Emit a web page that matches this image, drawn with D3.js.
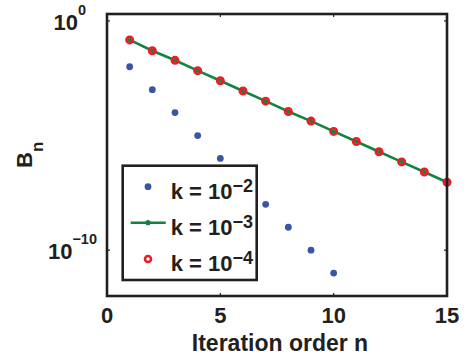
<!DOCTYPE html>
<html>
<head>
<meta charset="utf-8">
<script src="https://cdn.jsdelivr.net/npm/d3@7"></script>
<style>
  body { margin: 0; background: #fff; }
  text { font-family: "Liberation Sans", Arial, sans-serif; font-weight: bold; fill: #231f20; }
</style>
</head>
<body>
<div id="chart"></div>
<script>
// iteration orders
var orders = [1, 2, 3, 4, 5, 6, 7, 8, 9, 10, 11, 12, 13, 14, 15];
// B_n for k = 1e-2
var bK2 = [1e-2, 1e-3, 1e-4, 1e-5, 1e-6, 1e-7, 1e-8, 1e-9, 1e-10, 1e-11];
// B_n for k = 1e-3
var bK3 = [0.148, 0.0501, 0.0191, 6.76e-3, 2.45e-3, 8.71e-4, 3.16e-4, 1.12e-4,
           4.27e-5, 1.51e-5, 5.50e-6, 1.95e-6, 7.08e-7, 2.57e-7, 9.12e-8];
// B_n for k = 1e-4 (on top of k = 1e-3)
var bK4 = [0.148, 0.0501, 0.0191, 6.76e-3, 2.45e-3, 8.71e-4, 3.16e-4, 1.12e-4,
           4.27e-5, 1.51e-5, 5.50e-6, 1.95e-6, 7.08e-7, 2.57e-7, 9.12e-8];
var xTicks = [0, 5, 10, 15];
var yTicks = [1e0, 1e-10];
var legendExp = ['\u22122', '\u22123', '\u22124'];

var W = 466, H = 360;
var svg = d3.select('#chart').append('svg')
	.attr('width', W)
	.attr('height', H);

var x = d3.scaleLinear().domain([0, 15]).range([107, 447]);
var y = d3.scaleLog().domain([1e-12, 2]).range([296, 14]);

var blue = '#3a55a4', green = '#138440', red = '#ed1c24', ink = '#231f20';

// data
var line = d3.line()
	.x(function(d, i) { return x(orders[i]); })
	.y(function(d) { return y(d); });

svg.append('g').selectAll('circle')
	.data(bK2)
	.enter().append('circle')
	.attr('cx', function(d, i) { return x(orders[i]); })
	.attr('cy', function(d) { return y(d); })
	.attr('r', 3.4)
	.attr('fill', blue);

svg.append('path')
	.datum(bK3)
	.attr('d', line)
	.attr('fill', 'none')
	.attr('stroke', green)
	.attr('stroke-width', 2.6);

svg.append('g').selectAll('circle')
	.data(bK3)
	.enter().append('circle')
	.attr('cx', function(d, i) { return x(orders[i]); })
	.attr('cy', function(d) { return y(d); })
	.attr('r', 2.2)
	.attr('fill', green);

svg.append('g').selectAll('circle')
	.data(bK4)
	.enter().append('circle')
	.attr('cx', function(d, i) { return x(orders[i]); })
	.attr('cy', function(d) { return y(d); })
	.attr('r', 3.2)
	.attr('fill', 'none')
	.attr('stroke', red)
	.attr('stroke-width', 2.6);

// axes box with inward ticks
var x0 = x.range()[0], x1 = x.range()[1], y0 = y.range()[0], y1 = y.range()[1];
var tl = 3;
var ax = svg.append('g').attr('stroke', ink).attr('stroke-width', 1.2);
xTicks.forEach(function(t) {
	ax.append('line').attr('x1', x(t)).attr('x2', x(t)).attr('y1', y0).attr('y2', y0 - tl);
	ax.append('line').attr('x1', x(t)).attr('x2', x(t)).attr('y1', y1).attr('y2', y1 + tl);
});
yTicks.forEach(function(t) {
	ax.append('line').attr('x1', x0).attr('x2', x0 + tl).attr('y1', y(t)).attr('y2', y(t));
	ax.append('line').attr('x1', x1).attr('x2', x1 - tl).attr('y1', y(t)).attr('y2', y(t));
});
svg.append('rect')
	.attr('x', x0).attr('y', y1)
	.attr('width', x1 - x0).attr('height', y0 - y1)
	.attr('fill', 'none')
	.attr('stroke', ink)
	.attr('stroke-width', 2.6);

// tick labels
svg.append('g').selectAll('text')
	.data(xTicks)
	.enter().append('text')
	.attr('x', function(d) { return x(d); })
	.attr('y', 322.7)
	.attr('text-anchor', 'middle')
	.attr('font-size', 22)
	.text(function(d) { return d; });

yTicks.forEach(function(t) {
	var e = Math.round(Math.log10(t));
	var sup = e < 0 ? '\u2212' + (-e) : '' + e;
	// base "10" ends left of the superscript, like the original
	var tx = svg.append('text')
		.attr('x', 86 + 5.5 * (sup.length - 1))
		.attr('y', y(t) + 9)
		.attr('text-anchor', 'end')
		.attr('font-size', 22);
	tx.append('tspan').text('10');
	tx.append('tspan')
		.attr('font-size', 14.5)
		.attr('dy', -15)
		.text(sup);
});

// axis titles
svg.append('text')
	.attr('x', 280)
	.attr('y', 351)
	.attr('text-anchor', 'middle')
	.attr('font-size', 23)
	.text('Iteration order n');

var yl = svg.append('text')
	.attr('transform', 'translate(32,168) rotate(-90)')
	.attr('font-size', 22);
yl.append('tspan').text('B');
yl.append('tspan').attr('font-size', 17).attr('dy', 10.5).text('n');

// legend
var lg = svg.append('g');
lg.append('rect')
	.attr('x', 122.7).attr('y', 165.7)
	.attr('width', 134).attr('height', 114.3)
	.attr('fill', '#fff')
	.attr('stroke', ink)
	.attr('stroke-width', 2.6);

var rows = [186.7, 222.7, 259];
var mx = 148;
lg.append('circle').attr('cx', mx).attr('cy', rows[0]).attr('r', 3.4).attr('fill', blue);
lg.append('line')
	.attr('x1', 130.7).attr('x2', 165.7)
	.attr('y1', rows[1]).attr('y2', rows[1])
	.attr('stroke', green).attr('stroke-width', 2.6);
lg.append('circle').attr('cx', mx).attr('cy', rows[1]).attr('r', 2.6).attr('fill', green);
lg.append('circle').attr('cx', mx).attr('cy', rows[2]).attr('r', 3.0)
	.attr('fill', 'none').attr('stroke', red).attr('stroke-width', 2.6);

legendExp.forEach(function(s, i) {
	var t = lg.append('text')
		.attr('x', 170.7)
		.attr('y', rows[i] + 12.3)
		.attr('font-size', 22);
	t.append('tspan').text('k = 10');
	t.append('tspan').attr('font-size', 18).attr('dy', -7).text(s);
});
</script>
</body>
</html>
